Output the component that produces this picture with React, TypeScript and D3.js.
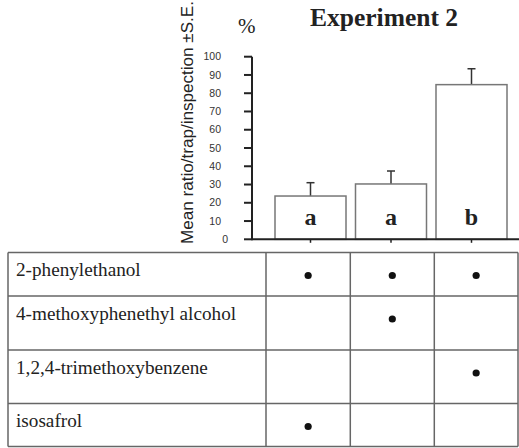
import React from "react";
import * as d3 from "d3";

const groups = ["T1", "T2", "T3"];
const means = [23.7, 30.3, 84.7];
const errors = [7.3, 7.1, 8.7];
const letters = ["a", "a", "b"];
const yTicks = [0, 10, 20, 30, 40, 50, 60, 70, 80, 90, 100];
const compounds = [
  "2-phenylethanol",
  "4-methoxyphenethyl alcohol",
  "1,2,4-trimethoxybenzene",
  "isosafrol",
];
const presence = [
  [1, 1, 1],
  [0, 1, 0],
  [0, 0, 1],
  [1, 0, 0],
];

const W = 519;
const H = 448;

export default function App() {
  const y = d3.scaleLinear().domain([0, 100]).range([239.3, 56.7]);
  const x = d3.scaleBand<string>().domain(groups).range([275, 507]).paddingInner(0.118).paddingOuter(0);
  const axisX = 252;
  const bw = x.bandwidth();

  // table layout
  const tLeft = 8;
  const tRight = 518;
  const colEdges = [tLeft, 266, 350.3, 434.3, tRight];
  const rowEdges = [252.5, 296, 350, 403.5, 446.5];

  const serif = "'Liberation Serif', 'Times New Roman', serif";
  const sans = "'Liberation Sans', Arial, sans-serif";

  return (
    <svg
      width={W}
      height={H}
      style={{ position: "fixed", left: 0, top: 0, background: "#fff" }}
    >
      <rect x={0} y={0} width={W} height={H} fill="#fff" />
      {/* title */}
      <text x={310} y={26} fontFamily={serif} fontWeight="bold" fontSize={25.5} fill="#222">
        Experiment 2
      </text>
      <text x={238} y={33} fontFamily={serif} fontSize={21} fill="#222">
        %
      </text>
      {/* y-axis title */}
      <text
        transform={`translate(193,122.5) rotate(-90)`}
        textAnchor="middle"
        fontFamily={sans}
        fontSize={17}
        fill="#222"
        textLength={243}
        lengthAdjust="spacingAndGlyphs"
      >
        Mean ratio/trap/inspection ±S.E.
      </text>

      {/* y axis */}
      <line x1={axisX} x2={axisX} y1={y(100)} y2={y(0) + 1} stroke="#222" strokeWidth={2} />
      {yTicks.map((t) => (
        <g key={t}>
          <line x1={axisX - 8} x2={axisX} y1={y(t)} y2={y(t)} stroke="#222" strokeWidth={2} />
          <text
            x={t === 0 ? 228 : 221}
            y={y(t)}
            dy="0.35em"
            textAnchor="end"
            fontFamily={sans}
            fontSize={10.5}
            fill="#333"
          >
            {t}
          </text>
        </g>
      ))}

      {/* bars */}
      {groups.map((g, i) => {
        const x0 = x(g)!;
        const cx = x0 + bw / 2;
        return (
          <g key={g}>
            <line x1={cx} x2={cx} y1={y(means[i])} y2={y(means[i] + errors[i])} stroke="#333" strokeWidth={1.5} />
            <line x1={cx - 4} x2={cx + 4} y1={y(means[i] + errors[i])} y2={y(means[i] + errors[i])} stroke="#333" strokeWidth={1.5} />
            <rect
              x={x0}
              y={y(means[i])}
              width={bw}
              height={y(0) - y(means[i])}
              fill="#fff"
              stroke="#777"
              strokeWidth={1.5}
            />
            <text
              x={cx}
              y={225}
              textAnchor="middle"
              fontFamily={serif}
              fontWeight="bold"
              fontSize={24}
              fill="#222"
            >
              {letters[i]}
            </text>
            <line x1={cx} x2={cx} y1={y(0)} y2={y(0) + 3.5} stroke="#222" strokeWidth={1.5} />
          </g>
        );
      })}
      {/* x axis line */}
      <line x1={axisX} x2={W} y1={y(0)} y2={y(0)} stroke="#222" strokeWidth={2} />

      {/* table */}
      <g>
        {rowEdges.map((ry, i) => (
          <line key={"r" + i} x1={tLeft} x2={tRight} y1={ry} y2={ry} stroke="#666" strokeWidth={1.5} />
        ))}
        {colEdges.map((cx, i) => (
          <line
            key={"c" + i}
            x1={cx}
            x2={cx}
            y1={rowEdges[0]}
            y2={rowEdges[rowEdges.length - 1]}
            stroke="#666"
            strokeWidth={1.5}
          />
        ))}
        {compounds.map((c, r) => (
          <g key={c}>
            <text x={16} y={rowEdges[r] + 23.8} fontFamily={serif} fontSize={19.2} fill="#222">
              {c}
            </text>
            {presence[r].map((p, k) =>
              p ? (
                <circle
                  key={k}
                  cx={(colEdges[k + 1] + colEdges[k + 2]) / 2}
                  cy={rowEdges[r] + 23}
                  r={3.6}
                  fill="#111"
                />
              ) : null
            )}
          </g>
        ))}
      </g>
    </svg>
  );
}
